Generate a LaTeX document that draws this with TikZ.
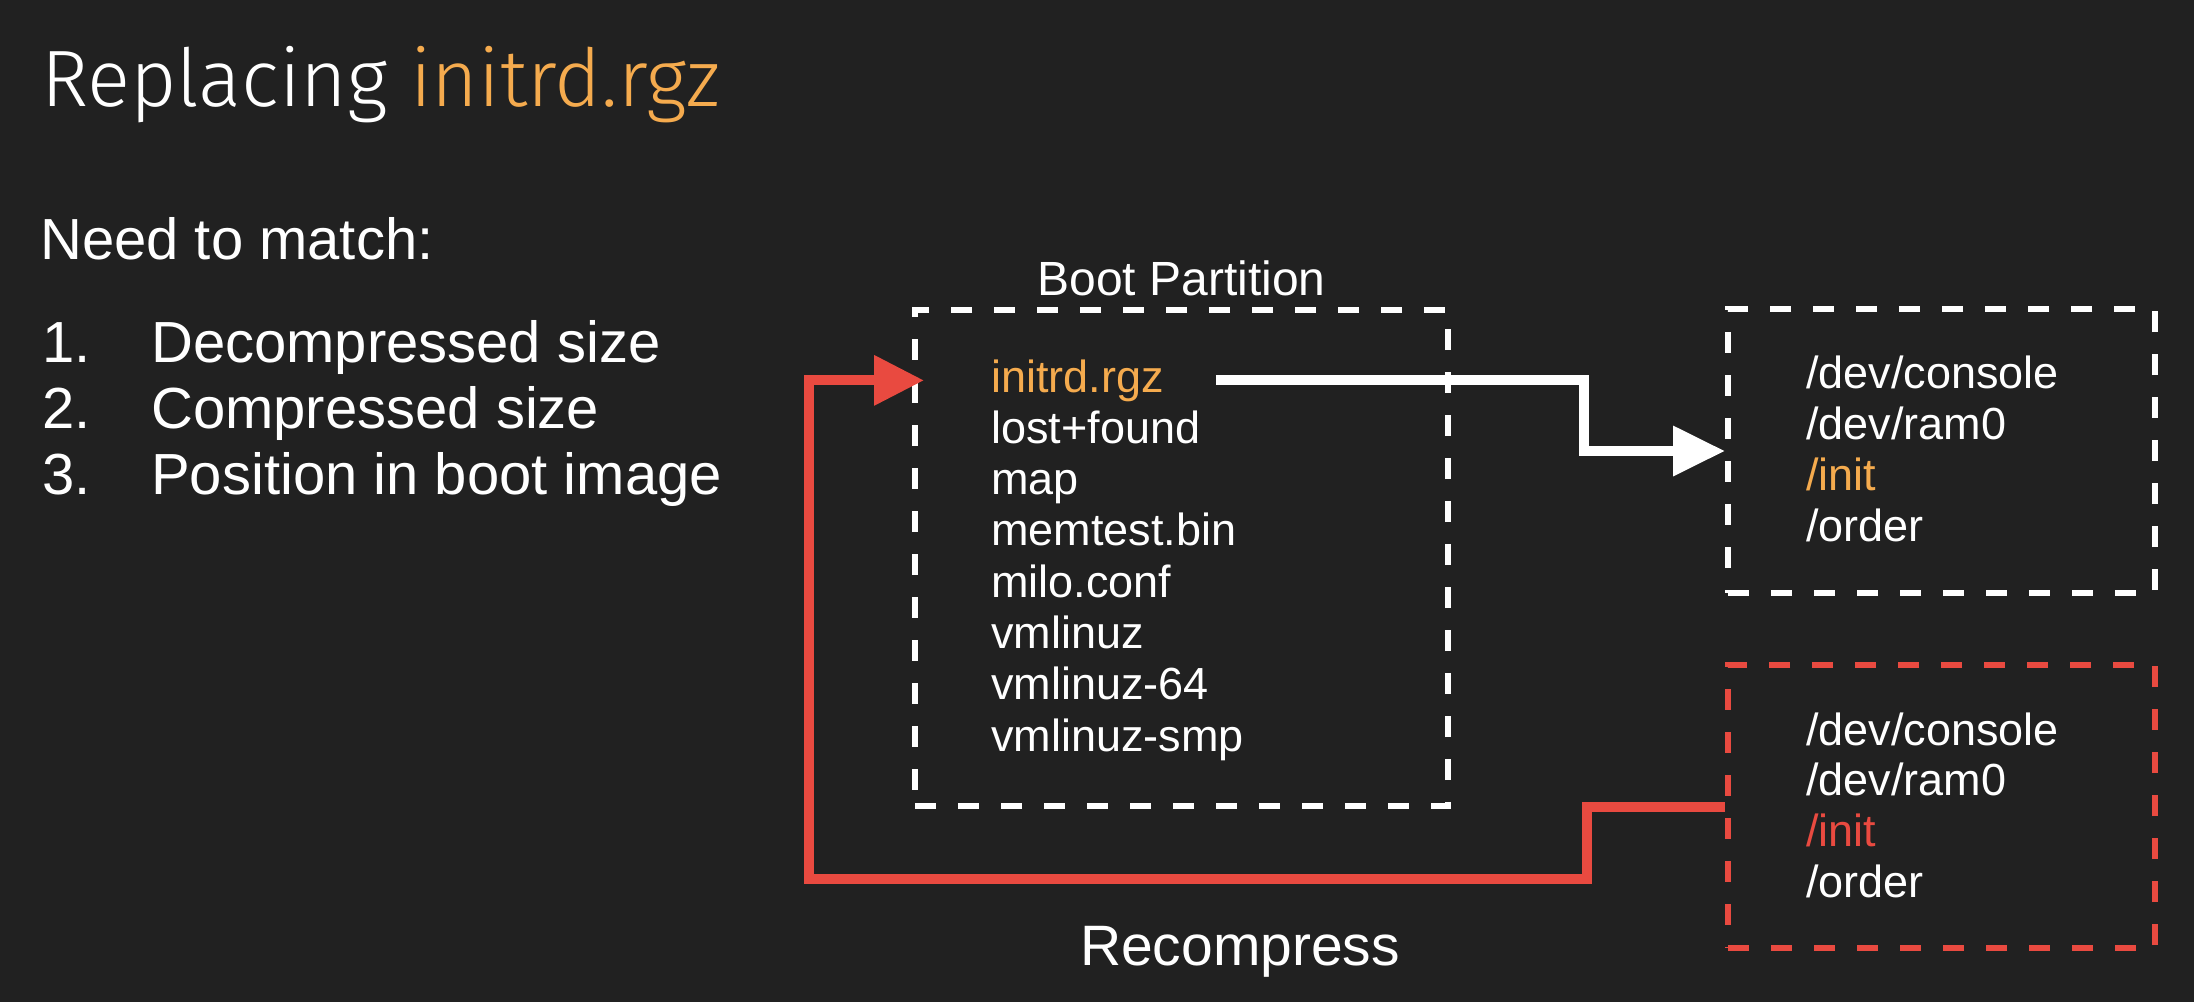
\documentclass[tikz,border=0pt]{standalone}
\usepackage{fontspec}
\setmainfont{Liberation Sans}
\newfontfamily\titlefont{Fira Sans Light}
\usetikzlibrary{arrows.meta,calc}
\definecolor{bg}{HTML}{212121}
\definecolor{orng}{HTML}{F5AB4E}
\definecolor{rd}{HTML}{E94A40}
\begin{document}
\begin{tikzpicture}[x=1pt,y=-1pt,
  title/.style={anchor=base west, inner sep=0pt, text=white, font=\titlefont\fontsize{80}{96}\selectfont},
  bigtxt/.style={anchor=base west, inner sep=0pt, text=white, font=\fontsize{58}{70}\selectfont},
  boxtxt/.style={anchor=base west, inner sep=0pt, text=white, font=\fontsize{45}{54}\selectfont},
  dbox/.style={draw=#1, line width=6pt, dash pattern=on 21pt off 22pt, inner sep=0pt},
  wline/.style={draw=white, line width=10pt, -{Triangle[length=52pt,width=48pt]}},
  rline/.style={draw=rd, line width=10pt, -{Triangle[length=50pt,width=48pt]}}]
\fill[bg] (0,0) rectangle (2194,1002);
\useasboundingbox (0,0) rectangle (2194,1002);

% title and list
\node[title] (title) at (41,106) {Replacing \textcolor{orng}{initrd.rgz}};
\node[bigtxt] (need) at (40,259) {Need to match:};
\node[bigtxt] (n1) at (42,362) {1.};
\node[bigtxt] (i1) at (151,362) {Decompressed size};
\node[bigtxt] (n2) at (42,428) {2.};
\node[bigtxt] (i2) at (151,428) {Compressed size};
\node[bigtxt] (n3) at (42,494) {3.};
\node[bigtxt] (i3) at (151,494) {Position in boot image};

% boxes
\node[dbox=white, minimum width=533pt, minimum height=496pt] (bbox) at (1181.5,558) {};
\node[dbox=white, minimum width=427pt, minimum height=284pt] (wbox) at (1941.5,451) {};
\node[dbox=rd, minimum width=427pt, minimum height=283pt] (rbox) at (1941.5,806.5) {};

\node[anchor=base, inner sep=0pt, text=white, font=\fontsize{48}{58}\selectfont] (bplabel) at (1181.5,295) {Boot Partition};

% boot partition contents
\node[boxtxt, text=orng] (initrd) at (991,392) {initrd.rgz};
\node[boxtxt] (lost) at (991,443.3) {lost+found};
\node[boxtxt] (map) at (991,494.6) {map};
\node[boxtxt] (memtest) at (991,545.9) {memtest.bin};
\node[boxtxt] (milo) at (991,597.2) {milo.conf};
\node[boxtxt] (vml) at (991,648.5) {vmlinuz};
\node[boxtxt] (vml64) at (991,699.8) {vmlinuz-64};
\node[boxtxt] (vmlsmp) at (991,751.1) {vmlinuz-smp};

% white box contents
\node[boxtxt] (wc) at (1806,388) {/dev/console};
\node[boxtxt] (wr) at (1806,439.3) {/dev/ram0};
\node[boxtxt, text=orng] (wi) at (1806,490.6) {/init};
\node[boxtxt] (wo) at (1806,541.9) {/order};

% red box contents
\node[boxtxt] (rc) at (1806,745) {/dev/console};
\node[boxtxt] (rr) at (1806,795.7) {/dev/ram0};
\node[boxtxt, text=rd] (ri) at (1806,846.4) {/init};
\node[boxtxt] (ro) at (1806,897.1) {/order};

\node[anchor=base, inner sep=0pt, text=white, font=\fontsize{57}{68}\selectfont] (recomp) at (1240,965) {Recompress};

% connectors
\coordinate (rlow) at (809,879);
\draw[wline] ([xshift=52pt]initrd.east) -| ($(wbox.west)+(-141,0)$) -- (wbox.west);
\draw[rline] (rbox.west) -- ++(-138,0) |- (rlow) -- (rlow |- initrd.east) -- ([xshift=12pt]bbox.west |- initrd.east);
\end{tikzpicture}
\end{document}
